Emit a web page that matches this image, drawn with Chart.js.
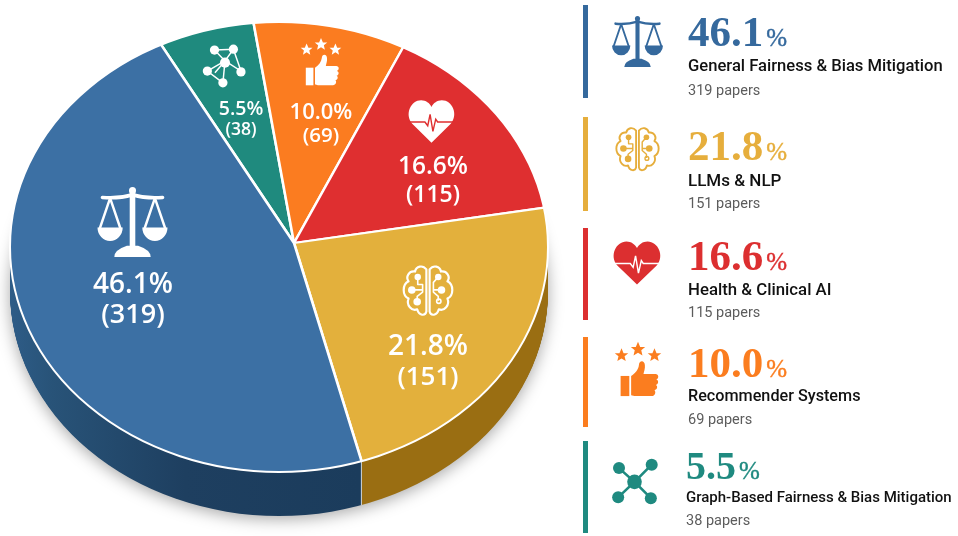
<!DOCTYPE html>
<html lang="en">
<head>
<meta charset="UTF-8">
<title>Fairness paper topics</title>
<script src="https://cdn.jsdelivr.net/npm/chart.js"></script>
<style>
    html, body { margin: 0; padding: 0; background: #fff; }
    body { position: relative; width: 958px; height: 536px; overflow: hidden; font-family: Roboto, sans-serif; }
    canvas { position: absolute; left: 0; top: 0; }
    .abs { position: absolute; white-space: nowrap; line-height: 1; }
    .icon { position: absolute; overflow: visible; }
    .bar { position: absolute; left: 583px; width: 5px; }
    .num { font-family: "Liberation Serif", serif; font-weight: 700; }
    .num small { font-size: 25px; margin-left: 3px; font-weight: 400; -webkit-text-stroke: 0.4px currentColor; }
    .name { font-weight: 500; color: #111; }
    .sub { color: #5c5c5c; font-size: 14.5px; }
    .pie-text { color: #fff; font-family: "Open Sans", sans-serif; font-weight: 600; transform: translateX(-50%); }
</style>
</head>
<body>
<svg width="0" height="0" style="position:absolute">
    <symbol id="scales" viewBox="0 0 100 100" overflow="visible">
        <circle cx="50" cy="5" r="5"/>
        <rect x="46" y="5" width="8" height="80"/>
        <path d="M7 15 Q30 17 50 11 Q70 17 93 15" fill="none" stroke="currentColor" stroke-width="5" stroke-linecap="round"/>
        <path d="M18 16 L3 60 M18 16 L33 60 M82 16 L67 60 M82 16 L97 60" fill="none" stroke="currentColor" stroke-width="3.5"/>
        <path d="M0 58 H36 A18 19 0 0 1 0 58 Z M64 58 H100 A18 19 0 0 1 64 58 Z"/>
        <path d="M24 100 Q24 90 42 84 H58 Q76 90 76 100 Z"/>
    </symbol>
    <symbol id="brain" viewBox="0 0 100 100" overflow="visible">
        <g fill="none" stroke="currentColor" stroke-width="4" stroke-linejoin="round">
            <path d="M47 10 C40 1 28 4 26 14 C15 12 8 24 14 32 C2 38 2 58 14 64 C9 76 20 88 30 84 C33 96 45 97 47 88 Z"/>
            <path d="M53 10 C60 1 72 4 74 14 C85 12 92 24 86 32 C98 38 98 58 86 64 C91 76 80 88 70 84 C67 96 55 97 53 88 Z"/>
            <path d="M31 25 V38 H40 V52 L30 60 V70 M16 48 H40 M69 24 L60 34 V52 L69 60 V68 M60 48 L72 48" stroke-width="3"/>
            <circle cx="70" cy="69" r="4" stroke-width="3"/>
        </g>
        <circle cx="31" cy="24" r="6"/><circle cx="20" cy="48" r="7"/><circle cx="30" cy="70" r="7"/>
        <circle cx="69" cy="24" r="6"/><circle cx="75" cy="48" r="7"/>
    </symbol>
    <symbol id="heart" viewBox="0 0 100 90" overflow="visible">
        <path d="M50 90 L9 50 C-8 30 6 0 28 0 C38 0 46 6 50 14 C54 6 62 0 72 0 C94 0 108 30 91 50 Z"/>
        <path d="M0 46 H36 L42 54 L47 30 L53 66 L59 40 L63 46 H100" fill="none" stroke="var(--cut)" stroke-width="3"/>
    </symbol>
    <symbol id="thumb" viewBox="0 0 100 118" overflow="visible">
        <path transform="translate(14 27) scale(1.55)" d="M0 -10 L2.9 -3.1 L9.5 -3.1 L4.3 1.2 L5.9 8.1 L0 4.3 L-5.9 8.1 L-4.3 1.2 L-9.5 -3.1 L-2.9 -3.1 Z"/>
        <path transform="translate(50 14) scale(1.65)" d="M0 -10 L2.9 -3.1 L9.5 -3.1 L4.3 1.2 L5.9 8.1 L0 4.3 L-5.9 8.1 L-4.3 1.2 L-9.5 -3.1 L-2.9 -3.1 Z"/>
        <path transform="translate(86 27) scale(1.55)" d="M0 -10 L2.9 -3.1 L9.5 -3.1 L4.3 1.2 L5.9 8.1 L0 4.3 L-5.9 8.1 L-4.3 1.2 L-9.5 -3.1 L-2.9 -3.1 Z"/>
        <rect x="12" y="72" width="19" height="44"/>
        <path d="M35 114 V72 C44 66 51 58 52 48 C52 38 64 36 65 48 C66 56 63 62 62 68 H88 C96 68 96 78 90 80 C96 82 95 90 89 92 C94 94 92 103 86 103 C90 107 87 116 80 116 H46 C41 116 38 114 35 114 Z"/>
    </symbol>
    <symbol id="net-legend" viewBox="0 0 100 100" overflow="visible">
        <path d="M14 20 L50 52 L90 12 M12 88 L50 52 L88 90" fill="none" stroke="currentColor" stroke-width="6"/>
        <circle cx="50" cy="52" r="17"/><circle cx="14" cy="20" r="14"/><circle cx="90" cy="12" r="14"/><circle cx="12" cy="88" r="14"/><circle cx="88" cy="90" r="14"/>
    </symbol>
    <symbol id="net-pie" viewBox="0 0 100 100" overflow="visible">
        <path d="M25 12 L70 10 L50 38 L25 12 M50 38 L26 66 M50 38 L88 62 L70 10 M50 38 L45 90 L8 62 L50 38" fill="none" stroke="currentColor" stroke-width="3.5"/>
        <circle cx="50" cy="42" r="12"/><circle cx="25" cy="12" r="11"/><circle cx="70" cy="10" r="11"/><circle cx="8" cy="62" r="11"/><circle cx="88" cy="64" r="11"/><circle cx="45" cy="90" r="11"/>
    </symbol>
</svg>
<canvas id="pie" width="958" height="536"></canvas>
<script>
    // legend order, pie runs the other way round
    const categories = ['General Fairness & Bias Mitigation', 'LLMs & NLP', 'Health & Clinical AI', 'Recommender Systems', 'Graph-Based Fairness & Bias Mitigation'];
    const papers = [319, 151, 115, 69, 38];
    const percents = ['46.1', '21.8', '16.6', '10.0', '5.5'];
    const colors = ['#3c70a4', '#e3b03c', '#df2f30', '#fb7c20', '#1f8a7e'];
    const legendColors = ['#35699d', '#e6ae3c', '#dc2f30', '#fb7d1f', '#1f8a80'];

    // layout of the tilted pie: top face ellipse, apex of the slices, wall height
    const face = { x: 279, y: 247, rx: 269, ry: 225 };
    const apex = { x: 294, y: 243 };
    const depth = 44;
    const tilt = { a: 1.255, c: -0.135, d: 1.1 };

    const wallStops = [
        [[0, '#2e5c87'], [0.12, '#285378'], [0.5, '#1e3f60'], [1, '#1b3c5c']],
        [[0, '#9a6e12'], [1, '#9a6e12']],
        [[0, '#8f1d1d'], [1, '#8f1d1d']],
        [[0, '#a9520f'], [1, '#a9520f']],
        [[0, '#135a52'], [1, '#135a52']]
    ];

    function ellipsePath(ctx, dy) {
        ctx.beginPath();
        ctx.ellipse(face.x, face.y + dy, face.rx, face.ry, 0, 0, Math.PI * 2);
    }

    function applyTilt(ctx, arc) {
        ctx.translate(apex.x, apex.y);
        ctx.transform(tilt.a, 0, tilt.c, tilt.d, 0, 0);
        ctx.translate(-arc.x, -arc.y);
    }

    const tiltedPie = {
        id: 'tiltedPie',
        beforeDatasetsDraw(chart) {
            const ctx = chart.ctx;
            const arcs = chart.getDatasetMeta(0).data;
            const fills = wallStops.map(stops => {
                const g = ctx.createLinearGradient(face.x - face.rx, 0, face.x + face.rx * 0.3, 0);
                stops.forEach(s => g.addColorStop(s[0], s[1]));
                return g;
            }).reverse();

            // soft shadow under the disc
            ctx.save();
            ctx.shadowColor = 'rgba(0,0,0,0.35)';
            ctx.shadowBlur = 16;
            ctx.shadowOffsetY = 4;
            ctx.fillStyle = '#1e3f60';
            ellipsePath(ctx, depth - 1);
            ctx.fill();
            ctx.restore();

            for (let dy = depth; dy >= 0; dy--) {
                ctx.save();
                ellipsePath(ctx, dy);
                ctx.clip();
                arcs.forEach((arc, i) => {
                    ctx.save();
                    ctx.translate(0, dy);
                    applyTilt(ctx, arc);
                    ctx.beginPath();
                    ctx.moveTo(arc.x, arc.y);
                    ctx.arc(arc.x, arc.y, arc.outerRadius, arc.startAngle, arc.endAngle);
                    ctx.closePath();
                    ctx.restore();
                    ctx.fillStyle = fills[i];
                    ctx.fill();
                    ctx.strokeStyle = 'rgba(235,240,245,0.75)';
                    ctx.lineWidth = 1;
                    ctx.stroke();
                });
                ctx.restore();
            }

            ctx.save();
            ellipsePath(ctx, 0);
            ctx.clip();
            applyTilt(ctx, arcs[0]);
        },
        afterDatasetsDraw(chart) {
            const ctx = chart.ctx;
            ctx.restore();
            ctx.strokeStyle = '#fff';
            ctx.lineWidth = 2;
            ellipsePath(ctx, 0);
            ctx.stroke();
        }
    };

    new Chart(document.getElementById('pie'), {
        type: 'pie',
        data: {
            labels: categories.slice().reverse(),
            datasets: [{
                data: papers.slice().reverse(),
                backgroundColor: colors.slice().reverse(),
                borderColor: '#fff',
                borderWidth: 2,
                clip: false
            }]
        },
        options: {
            responsive: false,
            animation: false,
            events: [],
            rotation: -34.8,
            layout: { padding: 0 },
            plugins: { legend: { display: false }, tooltip: { enabled: false } }
        },
        plugins: [tiltedPie]
    });

    function addText(cls, left, top, size, html, color) {
        const el = document.createElement('div');
        el.className = 'abs ' + cls;
        el.style.left = left + 'px';
        el.style.top = top + 'px';
        if (size) el.style.fontSize = size + 'px';
        if (color) el.style.color = color;
        el.innerHTML = html;
        document.body.appendChild(el);
    }

    function addIcon(name, x, y, w, h, color, cut) {
        const ns = 'http://www.w3.org/2000/svg';
        const svg = document.createElementNS(ns, 'svg');
        svg.setAttribute('class', 'icon');
        svg.setAttribute('width', w);
        svg.setAttribute('height', h);
        svg.style.left = x + 'px';
        svg.style.top = y + 'px';
        svg.style.color = color;
        svg.style.fill = color;
        svg.style.setProperty('--cut', cut);
        const use = document.createElementNS(ns, 'use');
        use.setAttribute('href', '#' + name);
        svg.appendChild(use);
        document.body.appendChild(svg);
    }

    // right hand legend
    const barSpans = [[5, 98], [117, 211], [228, 320], [337, 427], [441, 533]];
    const numBase = [46, 160, 270, 377, 479];
    const nameBase = [72, 186, 295, 402, 503];
    const subBase = [95, 208, 317, 424, 525];
    const textLeft = [688, 688, 688, 688, 686];
    const numSize = [43, 43, 43, 43, 40];
    const nameSize = [16.6, 17, 16.8, 16.2, 15];
    const legendIcons = [
        ['scales', 610, 16, 55, 51], ['brain', 614, 126, 47, 47], ['heart', 613, 241, 48, 44],
        ['thumb', 615, 343, 46, 54], ['net-legend', 613, 456, 43, 50]
    ];

    categories.forEach((name, i) => {
        const bar = document.createElement('div');
        bar.className = 'bar';
        bar.style.top = barSpans[i][0] + 'px';
        bar.style.height = (barSpans[i][1] - barSpans[i][0]) + 'px';
        bar.style.background = legendColors[i];
        document.body.appendChild(bar);

        const ic = legendIcons[i];
        addIcon(ic[0], ic[1], ic[2], ic[3], ic[4], legendColors[i], '#fff');
        addText('num', textLeft[i], numBase[i] - numSize[i] * 0.8375, numSize[i], percents[i] + '<small>%</small>', legendColors[i]);
        addText('name', textLeft[i], nameBase[i] - nameSize[i] * 0.8415, nameSize[i], name.replace('&', '&amp;'));
        addText('sub', textLeft[i], subBase[i] - 11.4, 0, papers[i] + ' papers');
    });

    // labels inside the slices
    const pieSpots = [
        { x: 133, pct: 282, cnt: 312, size: 28, cntSize: 27 },
        { x: 428, pct: 344, cnt: 375, size: 28, cntSize: 26 },
        { x: 433, pct: 165, cnt: 193, size: 24.5, cntSize: 23 },
        { x: 321, pct: 110, cnt: 134, size: 22, cntSize: 20.5 },
        { x: 241, pct: 108, cnt: 129, size: 19.5, cntSize: 17.5 }
    ];
    const pieIcons = [
        ['scales', 95, 187, 75, 70, '#fff'], ['brain', 401, 264, 54, 54, '#fff'], ['heart', 408, 100, 47, 43, colors[2]],
        ['thumb', 301, 37, 40, 51, '#fff'], ['net-pie', 204, 45, 42, 42, '#fff']
    ];
    categories.forEach((name, i) => {
        const s = pieSpots[i];
        const ic = pieIcons[i];
        addIcon(ic[0], ic[1], ic[2], ic[3], ic[4], '#fff', ic[5]);
        addText('pie-text', s.x, s.pct - s.size / 2, s.size, percents[i] + '%');
        addText('pie-text', s.x, s.cnt - s.cntSize / 2, s.cntSize, '(' + papers[i] + ')');
    });
</script>
</body>
</html>
